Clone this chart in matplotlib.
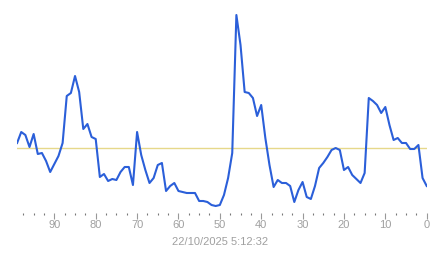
import matplotlib
matplotlib.use("Agg")
import matplotlib.pyplot as plt
from matplotlib.ticker import MultipleLocator

# samples ago (99 .. 0) and the measured values
ages = list(range(99, -1, -1))
values = [
    77, 88, 85, 73, 86, 66, 67, 59, 48, 56,
    64, 77, 124, 127, 144, 128, 91, 96, 83, 81,
    43, 46, 39, 41, 40, 48, 53, 53, 35, 88,
    65, 50, 37, 42, 55, 57, 29, 34, 37, 29,
    28, 27, 27, 27, 19, 19, 18, 15, 14, 15,
    25, 42, 67, 205, 175, 128, 127, 122, 104, 115,
    82, 55, 33, 40, 37, 37, 34, 18, 30, 38,
    23, 21, 34, 52, 57, 63, 70, 72, 70, 50,
    53, 45, 41, 37, 47, 122, 119, 115, 107, 113,
    95, 80, 82, 77, 77, 71, 71, 75, 42, 34,
]
average = 72
timestamp = "22/10/2025 5:12:32"

fig = plt.figure(figsize=(4.43, 2.58), dpi=100)
ax = fig.add_axes([17.1 / 443, 48 / 258, (426.7 - 17.1) / 443, 200 / 258])

ax.plot(ages, values, color="#2b5fd9", linewidth=1.5, solid_joinstyle="round")
ax.axhline(average, color="#e6d88a", linewidth=1.0, zorder=1)

ax.set_xlim(99, 0)
ax.set_ylim(10, 210)

for side in ["top", "right", "left", "bottom"]:
    ax.spines[side].set_visible(False)
ax.set_yticks([])

ax.xaxis.set_major_locator(MultipleLocator(10))
ax.xaxis.set_minor_locator(MultipleLocator(2.5))
ax.tick_params(axis="x", which="major", direction="out", length=4, width=0.8,
               color="#999999", labelcolor="#a0a0a0", labelsize=8, pad=1)
ax.tick_params(axis="x", which="minor", direction="out", length=1.2, width=0.8,
               color="#777777", pad=1)
ax.xaxis.set_tick_params(which="both", top=False)
# ticks sit a little below the plot area
ax.spines["bottom"].set_position(("outward", 2))

fig.text(220 / 443, 1 - 242 / 258, timestamp, ha="center", va="center",
         fontsize=8, color="#a0a0a0", family=["Liberation Sans", "DejaVu Sans"])
for lab in ax.get_xticklabels():
    lab.set_family(["Liberation Sans", "DejaVu Sans"])

fig.savefig("out.png", dpi=100, facecolor="white")
